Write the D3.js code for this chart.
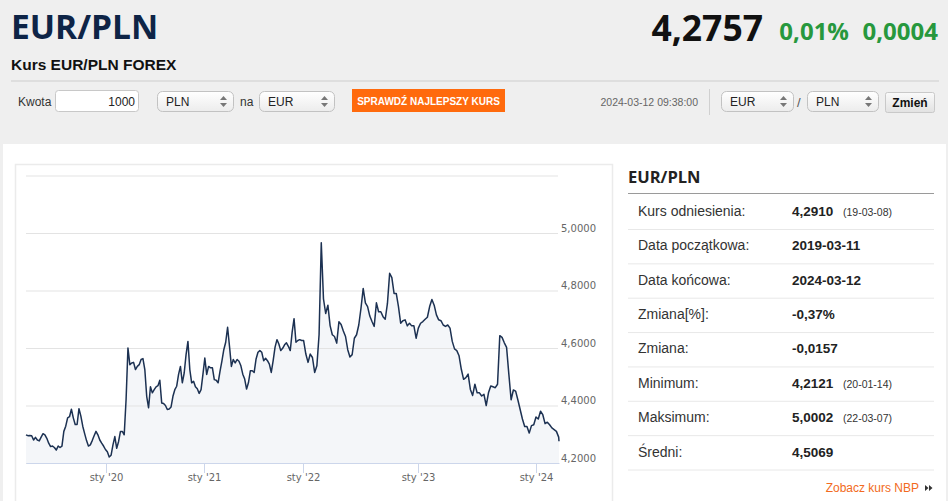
<!DOCTYPE html>
<html>
<head>
<meta charset="utf-8">
<title>Kurs EUR/PLN FOREX</title>
<script src="https://d3js.org/d3.v7.min.js"></script>
<style>
  html, body { margin: 0; padding: 0; background: #efefef; }
  svg { display: block; font-family: "Liberation Sans", Arial, sans-serif; }
  .axis text { font-family: "DejaVu Sans", Verdana, sans-serif; font-size: 10px; fill: #666; }
</style>
</head>
<body>
<div id="chart"></div>
<script>
// --- dane ---
const pair = "EUR/PLN";
const lastRate = "4,2757";
const changePct = "0,01%";
const changeAbs = "0,0004";
const quoteTime = "2024-03-12 09:38:00";

const firstDay = "2019-03-11";
const lastDay = "2024-03-12";
const lastDayRate = 4.2757;

// kursy tygodniowe (poniedziałki) od 2019-03-11 do 2024-03-11
const weeklyRates = [
  // 2019
  4.298, 4.295, 4.296, 4.295, 4.280, 4.289, 4.280, 4.277, 4.290, 4.302,
  4.298, 4.286, 4.269, 4.257, 4.259, 4.254, 4.245, 4.259, 4.254, 4.259,
  4.310, 4.328, 4.357, 4.361, 4.387, 4.357, 4.334, 4.334, 4.389, 4.363,
  4.328, 4.302, 4.278, 4.259, 4.263, 4.278, 4.295, 4.310, 4.298, 4.280,
  4.269, 4.259, 4.247,
  // 2020
  4.239, 4.221, 4.227, 4.263, 4.292, 4.251, 4.275, 4.310, 4.310, 4.298,
  4.421, 4.600, 4.542, 4.548, 4.550, 4.525, 4.536, 4.542, 4.560, 4.563,
  4.525, 4.432, 4.392, 4.465, 4.444, 4.455, 4.465, 4.469, 4.488, 4.409,
  4.407, 4.400, 4.386, 4.388, 4.395, 4.432, 4.455, 4.467, 4.508, 4.536,
  4.479, 4.513, 4.577, 4.623, 4.525, 4.479, 4.484, 4.465, 4.458, 4.442,
  4.455, 4.508,
  // 2021
  4.565, 4.508, 4.536, 4.531, 4.531, 4.490, 4.488, 4.479, 4.519, 4.554,
  4.594, 4.620, 4.672, 4.606, 4.536, 4.560, 4.548, 4.560, 4.554, 4.538,
  4.509, 4.492, 4.457, 4.480, 4.521, 4.521, 4.515, 4.562, 4.585, 4.591,
  4.585, 4.556, 4.564, 4.556, 4.544, 4.515, 4.556, 4.603, 4.629, 4.614,
  4.591, 4.599, 4.611, 4.618, 4.606, 4.591, 4.655, 4.702, 4.620, 4.626,
  4.629, 4.626,
  // 2022
  4.626, 4.579, 4.550, 4.579, 4.567, 4.515, 4.538, 4.646, 4.966, 4.771,
  4.720, 4.749, 4.678, 4.646, 4.640, 4.617, 4.691, 4.682, 4.659, 4.640,
  4.594, 4.569, 4.577, 4.634, 4.646, 4.680, 4.738, 4.807, 4.757, 4.744,
  4.711, 4.692, 4.675, 4.757, 4.726, 4.726, 4.709, 4.700, 4.755, 4.860,
  4.845, 4.790, 4.790, 4.744, 4.686, 4.695, 4.698, 4.677, 4.686, 4.677,
  4.677, 4.634,
  // 2023
  4.669, 4.686, 4.692, 4.700, 4.707, 4.744, 4.769, 4.749, 4.715, 4.698,
  4.695, 4.680, 4.675, 4.680, 4.669, 4.623, 4.597, 4.591, 4.573, 4.526,
  4.491, 4.497, 4.509, 4.456, 4.435, 4.474, 4.444, 4.444, 4.433, 4.439,
  4.400, 4.444, 4.468, 4.465, 4.462, 4.474, 4.643, 4.637, 4.618, 4.602,
  4.509, 4.420, 4.454, 4.450, 4.419, 4.386, 4.353, 4.327, 4.327, 4.304,
  4.330, 4.333,
  // 2024
  4.360, 4.353, 4.380, 4.368, 4.337, 4.342, 4.333, 4.322, 4.316, 4.310,
  4.290
];

// granice lat na osi (oś porządkowa - lata mają różną szerokość)
const yearStarts = ["2020-01-01", "2021-01-01", "2022-01-01", "2023-01-01", "2024-01-01"];
const yTicks = [4.2, 4.4, 4.6, 4.8, 5.0, 5.2];

// tabela po prawej
const statLabels = ["Kurs odniesienia:", "Data początkowa:", "Data końcowa:", "Zmiana[%]:",
                    "Zmiana:", "Minimum:", "Maksimum:", "Średni:"];
const statValues = ["4,2910", "2019-03-11", "2024-03-12", "-0,37%", "-0,0157", "4,2121", "5,0002", "4,5069"];
const statNotes = ["(19-03-08)", "", "", "", "", "(20-01-14)", "(22-03-07)", ""];

// --- przygotowanie ---
const parse = d3.timeParse("%Y-%m-%d");
const mondays = d3.timeMonday.range(parse(firstDay), parse(lastDay));
const series = weeklyRates.map((v, i) => ({ date: mondays[i], value: v }));
series.push({ date: parse(lastDay), value: lastDayRate });

const pl = d3.formatLocale({ decimal: ",", thousands: " ", grouping: [3], currency: ["", " zł"] });
const fmtRate = pl.format(".4f");

const width = 948, height = 501;
const svg = d3.select("#chart").append("svg")
    .attr("width", width)
    .attr("height", height);

const defs = svg.append("defs");
const selGrad = defs.append("linearGradient").attr("id", "selGrad").attr("x1", 0).attr("y1", 0).attr("x2", 0).attr("y2", 1);
selGrad.append("stop").attr("offset", "0%").attr("stop-color", "#ffffff");
selGrad.append("stop").attr("offset", "100%").attr("stop-color", "#ececec");
const btnGrad = defs.append("linearGradient").attr("id", "btnGrad").attr("x1", 0).attr("y1", 0).attr("x2", 0).attr("y2", 1);
btnGrad.append("stop").attr("offset", "0%").attr("stop-color", "#fafafa");
btnGrad.append("stop").attr("offset", "100%").attr("stop-color", "#e2e2e2");

// --- nagłówek ---
const head = svg.append("g");

head.append("text")
    .attr("x", 11).attr("y", 39)
    .style("font-family", "'Open Sans', sans-serif")
    .style("font-weight", 700)
    .style("font-size", "33.5px")
    .attr("fill", "#0e2446")
    .text(pair);

head.append("text")
    .attr("x", 11).attr("y", 70)
    .style("font-weight", 700)
    .style("font-size", "15.5px")
    .attr("fill", "#111")
    .text(`Kurs ${pair} FOREX`);

head.append("text")
    .attr("x", 938).attr("y", 40)
    .attr("text-anchor", "end")
    .style("font-family", "'Open Sans', sans-serif")
    .style("font-weight", 700)
    .style("font-size", "24px")
    .attr("fill", "#27983d")
    .text(changeAbs);

head.append("text")
    .attr("x", 849).attr("y", 40)
    .attr("text-anchor", "end")
    .style("font-family", "'Open Sans', sans-serif")
    .style("font-weight", 700)
    .style("font-size", "24px")
    .attr("fill", "#27983d")
    .text(changePct);

head.append("text")
    .attr("x", 763).attr("y", 41)
    .attr("text-anchor", "end")
    .style("font-family", "'Open Sans', sans-serif")
    .style("font-weight", 700)
    .style("font-size", "35.5px")
    .attr("fill", "#111")
    .text(lastRate);

head.append("line")
    .attr("x1", 11).attr("x2", 939).attr("y1", 81).attr("y2", 81)
    .attr("stroke", "#d8d8d8").attr("stroke-width", 1.5);

// pasek formularza
const form = svg.append("g").style("font-size", "12px").attr("fill", "#333");

function selectBox(x, y, w, h, label) {
    const s = form.append("g").attr("transform", `translate(${x},${y})`);
    s.append("rect")
        .attr("x", 0.5).attr("y", 0.5).attr("width", w).attr("height", h).attr("rx", 5)
        .attr("fill", "url(#selGrad)").attr("stroke", "#c2c2c2");
    s.append("text").attr("x", 9).attr("y", h / 2 + 4.5).attr("fill", "#222").text(label);
    s.append("path")
        .attr("d", `M${w - 13},${h / 2 - 1} l3.5,-4 l3.5,4 z M${w - 13},${h / 2 + 2} l3.5,4 l3.5,-4 z`)
        .attr("fill", "#777");
}

form.append("text").attr("x", 18).attr("y", 106).text("Kwota");
form.append("rect")
    .attr("x", 55.5).attr("y", 90.5).attr("width", 83).attr("height", 21).attr("rx", 3)
    .attr("fill", "#fff").attr("stroke", "#c8c8c8");
form.append("text").attr("x", 135).attr("y", 106).attr("text-anchor", "end").attr("fill", "#222").text("1000");

selectBox(157, 91, 76, 20, "PLN");
form.append("text").attr("x", 240).attr("y", 106).text("na");
selectBox(259, 91, 75, 20, "EUR");

form.append("rect")
    .attr("x", 352).attr("y", 89).attr("width", 153).attr("height", 23)
    .attr("fill", "#ff6a0d");
form.append("text")
    .attr("x", 428.5).attr("y", 104.5).attr("text-anchor", "middle")
    .style("font-size", "10px").style("font-weight", 700).attr("fill", "#fff")
    .text("SPRAWDŹ NAJLEPSZY KURS");

form.append("text")
    .attr("x", 698).attr("y", 106).attr("text-anchor", "end")
    .style("font-size", "10.5px").attr("fill", "#666")
    .text(quoteTime);
form.append("line")
    .attr("x1", 709.5).attr("x2", 709.5).attr("y1", 89).attr("y2", 115)
    .attr("stroke", "#d0d0d0");

selectBox(721, 91, 72, 20, "EUR");
form.append("text").attr("x", 797).attr("y", 107).attr("fill", "#555").style("font-size", "13px").text("/");
selectBox(807, 91, 71, 20, "PLN");

form.append("rect")
    .attr("x", 885.5).attr("y", 92.5).attr("width", 49).attr("height", 20).attr("rx", 2)
    .attr("fill", "url(#btnGrad)").attr("stroke", "#c9c9c9");
form.append("text")
    .attr("x", 910).attr("y", 107).attr("text-anchor", "middle")
    .style("font-weight", 700).attr("fill", "#111")
    .text("Zmień");

// --- panel główny ---
svg.append("rect")
    .attr("x", 3).attr("y", 144).attr("width", 943).attr("height", 360)
    .attr("fill", "#fff");

svg.append("rect")
    .attr("x", 15.5).attr("y", 164.5).attr("width", 597).attr("height", 400)
    .attr("fill", "#fff").attr("stroke", "#ebebeb").attr("stroke-width", 1.5);

// skale
const x = d3.scaleTime()
    .domain([parse(firstDay), ...yearStarts.map(parse), parse(lastDay)])
    .range([26, 106, 204, 303, 418, 536, 559]);

const y = d3.scaleLinear()
    .domain([4.2, 5.2])
    .range([463, 175.5]);

const plot = svg.append("g");

const area = d3.area()
    .x(d => x(d.date))
    .y0(y(4.2))
    .y1(d => y(d.value));

const line = d3.line()
    .x(d => x(d.date))
    .y(d => y(d.value));

plot.append("path")
    .datum(series)
    .attr("d", area)
    .attr("fill", "#f4f6f9");

// siatka + etykiety osi Y
const yAxis = d3.axisRight(y)
    .tickValues(yTicks)
    .tickSize(-532)
    .tickPadding(3)
    .tickFormat(d => d >= 5.2 ? "" : fmtRate(d));

plot.append("g")
    .attr("class", "axis")
    .attr("transform", "translate(558,0)")
    .call(yAxis)
    .call(g => g.select(".domain").remove())
    .call(g => g.selectAll(".tick line").attr("stroke", "#e3e3e3"))
    .call(g => g.selectAll(".tick text").attr("dy", -2));

plot.append("path")
    .datum(series)
    .attr("d", line)
    .attr("fill", "none")
    .attr("stroke", "#1c3152")
    .attr("stroke-width", 1.5)
    .attr("stroke-linejoin", "round");

// oś X
const xAxis = d3.axisBottom(x)
    .tickValues(yearStarts.map(parse))
    .tickSize(10)
    .tickSizeOuter(0)
    .tickPadding(1)
    .tickFormat(d => `sty '${d3.timeFormat("%y")(d)}`);

plot.append("g")
    .attr("class", "axis")
    .attr("transform", `translate(0,${y(4.2)})`)
    .call(xAxis)
    .call(g => g.select(".domain").attr("stroke", "#ccd6eb"))
    .call(g => g.selectAll(".tick line").attr("stroke", "#ccd6eb"));

// --- tabela po prawej ---
const side = svg.append("g");

side.append("text")
    .attr("x", 628).attr("y", 183)
    .style("font-family", "'Open Sans', sans-serif")
    .style("font-weight", 700)
    .style("font-size", "16.5px")
    .attr("fill", "#222")
    .text(pair);

side.append("line")
    .attr("x1", 628).attr("x2", 934).attr("y1", 193.5).attr("y2", 193.5)
    .attr("stroke", "#9a9a9a");

const rowY = d3.scaleLinear().domain([0, 7]).range([216, 456.5]);

const rows = side.selectAll("g.row")
    .data(statLabels)
    .join("g")
    .attr("class", "row")
    .attr("transform", (d, i) => `translate(0,${rowY(i)})`);

rows.append("text")
    .attr("x", 638)
    .style("font-size", "14px")
    .attr("fill", "#333")
    .text(d => d);

rows.append("text")
    .attr("x", 792)
    .style("font-size", "13.5px")
    .style("font-weight", 700)
    .attr("fill", "#222")
    .text((d, i) => statValues[i]);

rows.append("text")
    .attr("x", 843)
    .style("font-size", "10.5px")
    .attr("fill", "#333")
    .text((d, i) => statNotes[i]);

rows.append("line")
    .attr("x1", 628).attr("x2", 934).attr("y1", 13.5).attr("y2", 13.5)
    .attr("stroke", "#e8e8e8");

side.append("text")
    .attr("x", 919).attr("y", 492).attr("text-anchor", "end")
    .style("font-size", "12px")
    .attr("fill", "#f26a21")
    .text("Zobacz kurs NBP");

side.append("path")
    .attr("d", "M925,485 l3.5,3 l-3.5,3 z M929,485 l3.5,3 l-3.5,3 z")
    .attr("fill", "#333");
</script>
</body>
</html>
